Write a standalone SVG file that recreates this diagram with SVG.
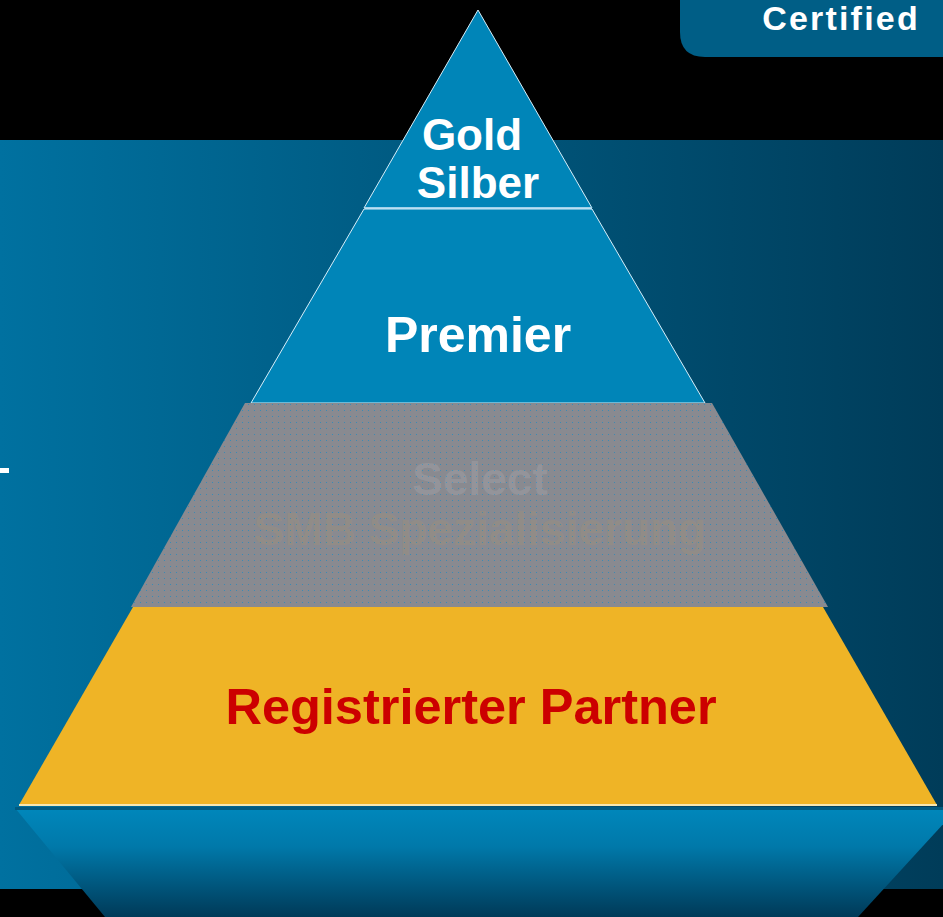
<svg xmlns="http://www.w3.org/2000/svg" width="943" height="917" viewBox="0 0 943 917">
<defs>
<linearGradient id="bg" x1="0" y1="0" x2="1" y2="0">
<stop offset="0" stop-color="#0071a0"/>
<stop offset="0.55" stop-color="#005479"/>
<stop offset="1" stop-color="#003c59"/>
</linearGradient>
<linearGradient id="ped" x1="0" y1="0" x2="0" y2="1">
<stop offset="0" stop-color="#0087bb"/>
<stop offset="0.35" stop-color="#0079aa"/>
<stop offset="1" stop-color="#003a58"/>
</linearGradient>
<pattern id="dots" width="6" height="6" patternUnits="userSpaceOnUse">
<rect width="6" height="6" fill="#898a90"/>
<rect x="2" y="2" width="1" height="1" fill="#3a8ab5"/>
</pattern>
<style>
.lbl{font-family:"Liberation Sans",Arial,sans-serif;font-weight:bold;text-anchor:middle}
.w{fill:#ffffff}
.tier{fill:#0085b8;stroke:#d6eef9;stroke-width:1}
</style>
</defs>
<rect width="943" height="917" fill="#000000"/>
<rect x="0" y="140" width="943" height="749" fill="url(#bg)"/>
<rect x="0" y="468" width="9" height="5" fill="#ffffff"/>
<g id="certified">
<path d="M680,0 H943 V57 H705 Q680,57 680,32 Z" fill="#005e86"/>
<text class="lbl w" x="841" y="30" font-size="34" letter-spacing="2.2">Certified</text>
</g>
<g id="pedestal">
<polygon points="15,808 958,808 858,917 105,917" fill="url(#ped)"/>
<rect x="15" y="807" width="928" height="3" fill="#005a80"/>
</g>
<g id="tier-gold">
<polygon class="tier" points="478,10 592,208 364,208"/>
<line x1="365" y1="208" x2="592" y2="208" stroke="#9fd2ec" stroke-width="2"/>
<text class="lbl w" x="472" y="150" font-size="44">Gold</text>
<text class="lbl w" x="478" y="198" font-size="44">Silber</text>
</g>
<g id="tier-premier">
<polygon class="tier" points="364,209 592,209 705,403 251,403"/>
<text class="lbl w" x="478" y="352" font-size="50">Premier</text>
</g>
<g id="tier-select">
<polygon points="245,403 712,403 828,607 131,607" fill="url(#dots)"/>
<text class="lbl" x="480" y="495" font-size="46" fill="#ffffff" fill-opacity="0.1">Select</text>
<text class="lbl" x="480" y="545" font-size="46" fill="#e0a830" fill-opacity="0.1">SMB Spezialisierung</text>
</g>
<g id="tier-registered">
<polygon points="133,607 823,607 937,805 19,805" fill="#efb426"/>
<line x1="19" y1="805" x2="937" y2="805" stroke="#f6e6b0" stroke-width="2"/>
<text class="lbl" x="471" y="724" font-size="50.5" fill="#cc0000">Registrierter Partner</text>
</g>
<g id="connectors"/>
</svg>
